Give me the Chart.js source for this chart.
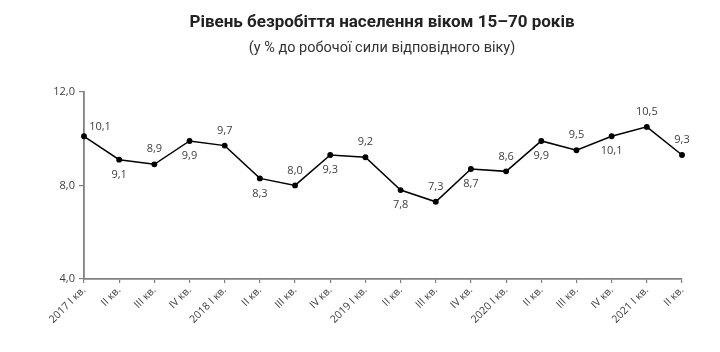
<!DOCTYPE html>
<html>
<head>
<meta charset="utf-8">
<script src="https://cdn.jsdelivr.net/npm/chart.js@4/dist/chart.umd.min.js"></script>
<style>
  html,body{margin:0;padding:0;background:#fff;}
  #wrap{width:720px;height:352px;}
</style>
</head>
<body>
<div id="wrap"><canvas id="chart" width="720" height="352"></canvas></div>
<script>
const quarters=["2017 I кв.","II кв.","III кв.","IV кв.","2018 I кв.","II кв.","III кв.","IV кв.","2019 I кв.","II кв.","III кв.","IV кв.","2020 I кв.","II кв.","III кв.","IV кв.","2021 I кв.","II кв."];
const rate=[10.1,9.1,8.9,9.9,9.7,8.3,8.0,9.3,9.2,7.8,7.3,8.7,8.6,9.9,9.5,10.1,10.5,9.3];
// where each value label sits relative to its point
const labelSide=["right","below","above","below","above","below","above","below","above","below","above","below","above","below","above","below","above","above"];

const fmt=v=>v.toFixed(1).replace(".",",");

const valueLabels={
  id:"valueLabels",
  afterDatasetsDraw(chart){
    const ctx=chart.ctx;
    const meta=chart.getDatasetMeta(0);
    ctx.save();
    ctx.font="11px 'Open Sans'";
    ctx.fillStyle="#404040";
    ctx.textAlign="center";
    ctx.textBaseline="middle";
    meta.data.forEach((pt,i)=>{
      let x=pt.x, y=pt.y;
      const side=labelSide[i];
      if(side==="above") y-=15;
      else if(side==="below") y+=15;
      else { x+=16; y-=9; }
      ctx.fillText(fmt(rate[i]),x,y);
    });
    ctx.restore();
  }
};

new Chart(document.getElementById("chart"),{
  type:"line",
  data:{labels:quarters,datasets:[{
    data:rate,
    borderColor:"#000",
    borderWidth:1.5,
    pointRadius:2.2,
    pointBackgroundColor:"#000",
    pointBorderColor:"#000",
    tension:0
  }]},
  options:{
    responsive:false,
    animation:false,
    layout:{padding:{left:44,right:0,top:0,bottom:0}},
    plugins:{
      legend:{display:false},
      tooltip:{enabled:false},
      title:{display:true,text:"Рівень безробіття населення віком 15–70 років",
        color:"#222",font:{family:"Roboto",size:17,weight:"bold"},padding:{top:13,bottom:6}},
      subtitle:{display:true,text:"(у % до робочої сили відповідного віку)",
        color:"#333",font:{family:"Roboto",size:14.5},padding:{top:0,bottom:35}}
    },
    scales:{
      x:{
        grid:{display:true,drawOnChartArea:false,drawTicks:true,tickLength:4,color:"#808080",lineWidth:1.2},
        border:{color:"#808080",width:1.8},
        ticks:{color:"#404040",font:{family:"Open Sans",size:10.5},minRotation:45,maxRotation:45,autoSkip:false,padding:1},
        afterFit(s){ s.height=73; }
      },
      y:{
        min:4,max:12,
        grid:{display:true,drawOnChartArea:false,drawTicks:true,tickLength:5,color:"#808080",lineWidth:1.2},
        border:{color:"#808080",width:1.8},
        ticks:{stepSize:4,color:"#404040",font:{family:"Open Sans",size:11},padding:4,callback:v=>fmt(v)},
        afterFit(s){ s.width=40; }
      },
      y2:{
        position:"right",
        min:4,max:12,
        grid:{display:false},
        border:{display:false},
        ticks:{display:false},
        afterFit(s){ s.width=38; }
      }
    }
  },
  plugins:[valueLabels]
});
</script>
</body>
</html>
